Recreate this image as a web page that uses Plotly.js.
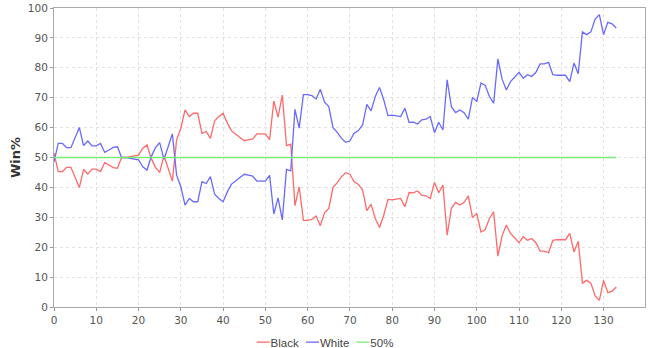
<!DOCTYPE html>
<html>
<head>
<meta charset="utf-8">
<script src="https://cdn.plot.ly/plotly-3.0.1.min.js"></script>
<style>
html,body{margin:0;padding:0;background:#fff;}
#chart{width:650px;height:348px;}
</style>
</head>
<body>
<div id="chart"></div>
<script>
const moves = Array.from({length: 134}, (_, i) => i);

const white = [
48.5,54.7,54.7,53.3,53.3,56.6,60,54,55.5,53.9,
53.9,54.7,51.7,52.5,53.4,53.6,50,50,49.7,49.4,
49.2,46.9,45.8,50.3,53.3,55,49.4,53.6,57.9,44.1,
40.2,34.1,36.3,35.2,35.2,41.9,41.3,43.6,37.7,36.3,
35.2,38.5,41.1,42.2,43.4,44.4,44.1,43.8,42.1,42.1,
42.1,44,31.1,36.5,29.1,46,45.5,66.1,59.8,71,
71,70.7,69.6,72.8,68.5,67,60,58.4,56.4,55.1,
55.6,58.1,59,60.9,67.8,65.6,70.4,73.4,69.3,64,
64.2,63.9,63.7,66.5,61.7,61.8,61.2,62.6,62.8,63.7,
58.3,61.8,59.2,76,67,65,65.9,65,62.8,70.1,
68.7,74.9,74.1,70.4,68.2,83,76.2,72.6,75.4,76.9,
78.5,76.5,77.7,77.1,78.5,81.3,81.3,81.8,77.7,77.5,
77.5,77.5,75.4,81.6,78,92,91.1,92,96.3,97.8,
91.1,95.2,94.7,93.3
];

const black = [
51.5,45.3,45.3,46.7,46.7,43.4,40,46,44.5,46.1,
46.1,45.3,48.3,47.5,46.6,46.4,50,50,50.3,50.6,
50.8,53.1,54.2,49.7,46.7,45,50.6,46.4,42.1,55.9,
59.8,65.9,63.7,64.8,64.8,58.1,58.7,56.4,62.3,63.7,
64.8,61.5,58.9,57.8,56.6,55.6,55.9,56.2,57.9,57.9,
57.9,56,68.9,63.5,70.9,54,54.5,33.9,40.2,29,
29,29.3,30.4,27.2,31.5,33,40,41.6,43.6,44.9,
44.4,41.9,41,39.1,32.2,34.4,29.6,26.6,30.7,36,
35.8,36.1,36.3,33.5,38.3,38.2,38.8,37.4,37.2,36.3,
41.7,38.2,40.8,24,33,35,34.1,35,37.2,29.9,
31.3,25.1,25.9,29.6,31.8,17,23.8,27.4,24.6,23.1,
21.5,23.5,22.3,22.9,21.5,18.7,18.7,18.2,22.3,22.5,
22.5,22.5,24.6,18.4,22,8,8.9,8,3.7,2.2,
8.9,4.8,5.3,6.7
];

const fifty = moves.map(() => 50);

const xTicks = [0,10,20,30,40,50,60,70,80,90,100,110,120,130];
const yTicks = [0,10,20,30,40,50,60,70,80,90,100];

const traces = [
  {x: moves, y: black, name: 'Black', type: 'scatter', mode: 'lines',
   line: {color: 'rgb(255,105,105)', width: 1.3}},
  {x: moves, y: white, name: 'White', type: 'scatter', mode: 'lines',
   line: {color: 'rgb(105,105,255)', width: 1.3}},
  {x: moves, y: fifty, name: '50%', type: 'scatter', mode: 'lines',
   line: {color: 'rgb(120,235,120)', width: 1.3}}
];

const tickFont = {family: 'DejaVu Sans, sans-serif', size: 10.5, color: '#555'};

const layout = {
  width: 650, height: 348,
  margin: {l: 54, r: 5, t: 8, b: 41, autoexpand: false},
  paper_bgcolor: '#fff',
  plot_bgcolor: '#fff',
  showlegend: true,
  legend: {orientation: 'h', x: 0.5, xanchor: 'center', y: -0.069, yanchor: 'top',
           font: {family: 'Liberation Sans, Arial, sans-serif', size: 11.5, color: '#444'},
           itemwidth: 30, tracegroupgap: 0, traceorder: 'normal'},
  xaxis: {
    range: [0, 139.8], tickvals: xTicks, ticktext: xTicks.map(String),
    showgrid: true, gridcolor: '#e2e2e2', griddash: 'dot', gridwidth: 1,
    zeroline: false, showline: true, mirror: true, linecolor: '#aaa', linewidth: 1,
    ticks: 'outside', ticklen: 3, tickcolor: '#999', tickfont: tickFont
  },
  yaxis: {
    range: [0, 100], tickvals: yTicks, ticktext: yTicks.map(String),
    showgrid: true, gridcolor: '#e2e2e2', griddash: 'dot', gridwidth: 1,
    zeroline: false, showline: true, mirror: true, linecolor: '#aaa', linewidth: 1,
    ticks: 'outside', ticklen: 3, tickcolor: '#999', tickfont: tickFont,
    title: {text: 'Win%', font: {family: 'DejaVu Sans, sans-serif', size: 13, color: '#333', weight: 'bold'}, standoff: 4}
  }
};

function compactLegend(gd) {
  try {
    const items = gd.querySelectorAll('.legend .traces');
    if (!items.length) return;
    let cursor = 0;
    const spans = [];
    items.forEach((g) => {
      const p = g.querySelector('.legendlines path');
      if (p) p.setAttribute('d', 'M26,0h13');
      const t = g.querySelector('.legendtext');
      const tw = t ? t.getBBox().width : 30;
      const m = /translate\(([-\d.]+)[ ,]+([-\d.]+)\)/.exec(g.getAttribute('transform') || '');
      const ty = m ? parseFloat(m[2]) : 0;
      g.setAttribute('transform', 'translate(' + (cursor - 26) + ',' + ty + ')');
      spans.push(cursor);
      cursor += 14 + tw + 7;
    });
    const total = cursor - 7;
    const leg = gd.querySelector('.legend');
    const lm = /translate\(([-\d.]+)[ ,]+([-\d.]+)\)/.exec(leg.getAttribute('transform') || '');
    const ly = lm ? parseFloat(lm[2]) : 0;
    leg.setAttribute('transform', 'translate(' + (325 - total / 2) + ',' + ly + ')');
    const bg = gd.querySelector('.legend .bg');
    if (bg) bg.setAttribute('width', 0);
    const sb = gd.querySelector('.legend .scrollbox');
    if (sb) sb.removeAttribute('clip-path');
  } catch (e) {}
}

const gd = document.getElementById('chart');
Plotly.newPlot(gd, traces, layout, {displayModeBar: false, staticPlot: true}).then(() => compactLegend(gd));
</script>
</body>
</html>
